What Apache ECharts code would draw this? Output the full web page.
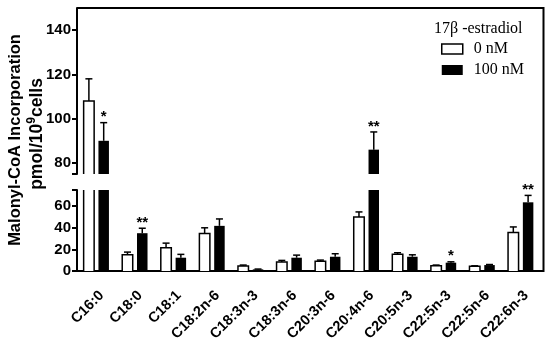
<!DOCTYPE html>
<html>
<head>
<meta charset="utf-8">
<script src="https://cdn.jsdelivr.net/npm/echarts@6/dist/echarts.min.js"></script>
<style>html,body{margin:0;padding:0;background:#fff;}#c{width:550px;height:349px;}</style>
</head>
<body>
<div id="c"></div>
<script>
// ---- data ----
const categories = ['C16:0','C18:0','C18:1','C18:2n-6','C18:3n-3','C18:3n-6','C20:3n-6','C20:4n-6','C20:5n-3','C22:5n-3','C22:5n-6','C22:6n-3'];
const ctrlValues = [108, 15, 21.5, 34.7, 4.6, 8.3, 9, 50, 15.5, 4.9, 4.3, 35.6];
const ctrlErrors = [10, 2.5, 4.3, 5.3, 0.9, 1.5, 1.1, 4.7, 1.4, 0.6, 0.5, 5.2];
const treatValues = [90, 35, 12.3, 41.8, 1.5, 12.3, 13.2, 86, 13.2, 7.7, 5.5, 63.6];
const treatErrors = [8.2, 4.6, 3.1, 6.4, 0.3, 2.4, 2.8, 8, 1.8, 0.8, 0.5, 6.4];
const treatSig = ['*','**','','','','','','**','','*','','**'];
const lowerTicks = [0, 20, 40, 60];
const upperTicks = [80, 100, 120, 140];
const seriesNames = ['0 nM', '100 nM'];
const legendTitle = '17\u03b2 -estradiol';

// ---- layout constants ----
const BREAK = 75, TOPV = 150;
const BAR_W = 10.5, OFF = 7.4;
const SANS = '"Liberation Sans", Arial, sans-serif';
const SERIF = '"Liberation Serif", "Times New Roman", serif';

function makeRender(kind, seg, values, errors, sigs) {
  return function (params, api) {
    const i = api.value(0);
    const v = values[i], e = errors[i];
    const lo = seg === 'lower' ? 0 : BREAK;
    const hi = seg === 'lower' ? BREAK : TOPV;
    if (v <= lo) return null;
    const cx = api.coord([i, 0])[0] + (kind === 'ctrl' ? -OFF : OFF);
    const x0 = cx - BAR_W / 2, x1 = cx + BAR_W / 2;
    const yBase = api.coord([i, lo])[1];
    const topVisible = v <= hi;
    const yTop = api.coord([i, Math.min(v, hi)])[1];
    const children = [];
    if (kind === 'ctrl') {
      children.push({type: 'rect', shape: {x: x0, y: yTop, width: BAR_W, height: yBase - yTop}, style: {fill: '#fff'}});
      if (topVisible) {
        children.push({type: 'polyline', shape: {points: [[x0, yBase], [x0, yTop], [x1, yTop], [x1, yBase]]}, style: {stroke: '#000', lineWidth: 1.5, fill: null}});
      } else {
        children.push({type: 'line', shape: {x1: x0, y1: yBase, x2: x0, y2: yTop}, style: {stroke: '#000', lineWidth: 1.5}});
        children.push({type: 'line', shape: {x1: x1, y1: yBase, x2: x1, y2: yTop}, style: {stroke: '#000', lineWidth: 1.5}});
      }
    } else {
      children.push({type: 'rect', shape: {x: x0, y: yTop, width: BAR_W, height: yBase - yTop}, style: {fill: '#000'}});
    }
    if (topVisible) {
      const yErr = api.coord([i, v + e])[1];
      children.push({type: 'line', shape: {x1: cx, y1: yTop, x2: cx, y2: yErr}, style: {stroke: '#000', lineWidth: 1.5}});
      children.push({type: 'line', shape: {x1: cx - 3.5, y1: yErr, x2: cx + 3.5, y2: yErr}, style: {stroke: '#000', lineWidth: 1.5}});
      const s = sigs ? sigs[i] : '';
      if (s) {
        children.push({type: 'text', style: {text: s, x: cx, y: yErr + 2, align: 'center', verticalAlign: 'bottom', font: 'bold 15px ' + SANS, fill: '#000'}});
      }
    }
    return {type: 'group', children: children};
  };
}

const idxData = categories.map((c, i) => [i, 0]);

const axisLineStyle = {color: '#000', width: 2};
const chart = echarts.init(document.getElementById('c'), null, {renderer: 'canvas'});
chart.setOption({
  animation: false,
  backgroundColor: '#fff',
  title: {text: legendTitle, left: 429, top: 16, textStyle: {fontFamily: SERIF, fontSize: 16, fontWeight: 'normal', color: '#000'}},
  legend: {
    orient: 'vertical', left: 441, top: 41, padding: 0, itemWidth: 21, itemHeight: 10, itemGap: 5,
    textStyle: {fontFamily: SERIF, fontSize: 16, color: '#000', padding: [0, 0, 0, 6]},
    data: [
      {name: seriesNames[0], icon: 'rect', itemStyle: {color: '#fff', borderColor: '#000', borderWidth: 1.5}},
      {name: seriesNames[1], icon: 'rect', itemStyle: {color: '#000', borderWidth: 0}}
    ]
  },
  grid: [
    {left: 77, top: 190, width: 463, height: 81, outerBoundsMode: 'none'},
    {left: 77, top: 8, width: 463, height: 166, outerBoundsMode: 'none'}
  ],
  xAxis: [
    {gridIndex: 0, type: 'category', data: categories, boundaryGap: true,
      axisLine: {lineStyle: axisLineStyle},
      axisTick: {alignWithLabel: true, length: 5, lineStyle: {color: '#000', width: 2}},
      axisLabel: {rotate: 45, interval: 0, margin: 17, verticalAlign: 'top', align: 'right', color: '#000', fontFamily: SANS, fontWeight: 'bold', fontSize: 14.5}},
    {gridIndex: 1, type: 'category', data: categories, show: false}
  ],
  yAxis: [
    {gridIndex: 0, type: 'value', min: 0, max: BREAK,
      axisLine: {show: true, lineStyle: axisLineStyle},
      axisTick: {show: true, length: 5, lineStyle: {color: '#000', width: 2}, customValues: lowerTicks.concat([BREAK])},
      axisLabel: {customValues: lowerTicks, margin: 6, color: '#000', fontFamily: SANS, fontWeight: 'bold', fontSize: 15},
      splitLine: {show: false}},
    {gridIndex: 1, type: 'value', min: BREAK, max: TOPV,
      axisLine: {show: true, lineStyle: axisLineStyle},
      axisTick: {show: true, length: 5, lineStyle: {color: '#000', width: 2}, customValues: [BREAK].concat(upperTicks)},
      axisLabel: {customValues: upperTicks, margin: 6, color: '#000', fontFamily: SANS, fontWeight: 'bold', fontSize: 15},
      splitLine: {show: false}}
  ],
  series: [
    {name: seriesNames[0], type: 'custom', xAxisIndex: 0, yAxisIndex: 0, data: idxData, encode: {x: 0, y: 1}, itemStyle: {color: '#fff', borderColor: '#000'}, renderItem: makeRender('ctrl', 'lower', ctrlValues, ctrlErrors, null)},
    {name: seriesNames[1], type: 'custom', xAxisIndex: 0, yAxisIndex: 0, data: idxData, encode: {x: 0, y: 1}, itemStyle: {color: '#000'}, renderItem: makeRender('treat', 'lower', treatValues, treatErrors, treatSig)},
    {name: seriesNames[0], type: 'custom', xAxisIndex: 1, yAxisIndex: 1, data: idxData, encode: {x: 0, y: 1}, itemStyle: {color: '#fff', borderColor: '#000'}, renderItem: makeRender('ctrl', 'upper', ctrlValues, ctrlErrors, null)},
    {name: seriesNames[1], type: 'custom', xAxisIndex: 1, yAxisIndex: 1, data: idxData, encode: {x: 0, y: 1}, itemStyle: {color: '#000'}, renderItem: makeRender('treat', 'upper', treatValues, treatErrors, treatSig)}
  ],
  graphic: [
    {type: 'polyline', shape: {points: [[540, 271], [543.5, 271], [543.5, 8], [77, 8]]}, style: {stroke: '#000', lineWidth: 2, fill: null}, z: 10},
    {type: 'text', x: 15, y: 140, rotation: Math.PI / 2, style: {text: 'Malonyl-CoA Incorporation', font: 'bold 16.5px ' + SANS, fill: '#000', align: 'center', verticalAlign: 'middle'}},
    {type: 'text', x: 36, y: 134, rotation: Math.PI / 2, style: {
      text: '{a|pmol/10}{s|9}{a|cells}', align: 'center', verticalAlign: 'middle',
      rich: {a: {font: 'bold 17.5px ' + SANS, fill: '#000', verticalAlign: 'bottom', lineHeight: 20}, s: {font: 'bold 12px ' + SANS, fill: '#000', verticalAlign: 'top', lineHeight: 20, padding: [0, 0, 7, 0]}}
    }}
  ]
});
</script>
</body>
</html>
